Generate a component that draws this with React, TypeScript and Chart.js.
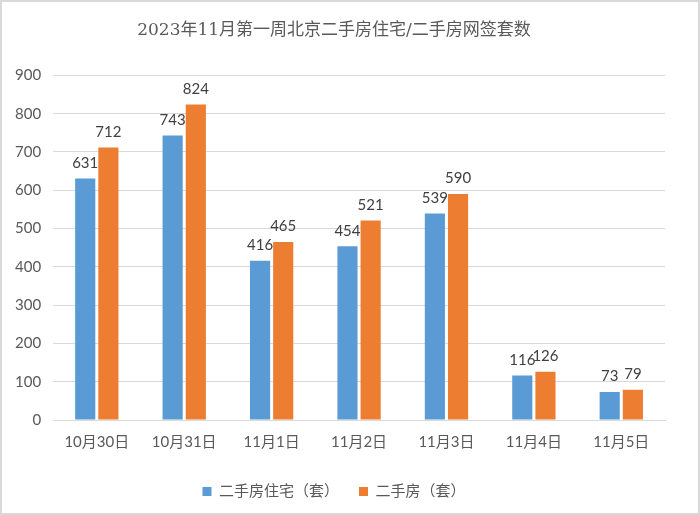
import React, { useEffect, useRef } from "react";
import { Chart, registerables } from "chart.js";

Chart.register(...registerables);

const categories = ["10月30日", "10月31日", "11月1日", "11月2日", "11月3日", "11月4日", "11月5日"];
const seriesNames = ["二手房住宅（套）", "二手房（套）"];
const residential = [631, 743, 416, 454, 539, 116, 73];
const allHomes = [712, 824, 465, 521, 590, 126, 79];
const titleText = "2023年11月第一周北京二手房住宅/二手房网签套数";

const FONT = "Lato, 'Noto Sans CJK SC', sans-serif";

const labelPlugin = {
  id: "barLabels",
  afterDatasetsDraw(chart: any) {
    const ctx = chart.ctx;
    ctx.save();
    ctx.font = `15px ${FONT}`;
    ctx.fillStyle = "#404040";
    ctx.textAlign = "center";
    ctx.textBaseline = "bottom";
    chart.data.datasets.forEach((ds: any, i: number) => {
      const meta = chart.getDatasetMeta(i);
      meta.data.forEach((bar: any, j: number) => {
        ctx.fillText(String(ds.data[j]), bar.x, bar.y - 8);
      });
    });
    ctx.restore();
  },
};

export default function App() {
  const ref = useRef<HTMLCanvasElement>(null);
  useEffect(() => {
    document.body.style.margin = "0";
    const chart = new Chart(ref.current!, {
      type: "bar",
      data: {
        labels: categories,
        datasets: [
          { label: seriesNames[0], data: residential, backgroundColor: "#5B9BD5", categoryPercentage: 0.53, barPercentage: 0.87 },
          { label: seriesNames[1], data: allHomes, backgroundColor: "#ED7D31", categoryPercentage: 0.53, barPercentage: 0.87 },
        ],
      },
      options: {
        animation: false,
        responsive: false,
        maintainAspectRatio: false,
        layout: { padding: { left: 1, right: 33, top: 8, bottom: 4 } },
        plugins: {
          title: {
            display: true,
            text: titleText,
            color: "#595959",
            font: { family: "'DejaVu Serif', 'Noto Sans CJK SC', serif", size: 17, weight: "normal" },
            padding: { top: 10, bottom: 35 },
          },
          legend: {
            position: "bottom",
            labels: {
              color: "#595959",
              font: { family: FONT, size: 15 },
              boxWidth: 9,
              boxHeight: 9,
              padding: 20,
            },
          },
          tooltip: { enabled: false },
        },
        scales: {
          x: {
            grid: { display: false, drawTicks: false },
            border: { color: "#d9d9d9" },
            ticks: { color: "#595959", font: { family: FONT, size: 15 }, padding: 13 },
          },
          y: {
            min: 0,
            max: 900,
            ticks: { stepSize: 100, color: "#595959", font: { family: FONT, size: 15 }, padding: 12 },
            grid: { color: "#d9d9d9", drawTicks: false },
            border: { display: false },
          },
        },
      },
      plugins: [labelPlugin],
    });
    return () => chart.destroy();
  }, []);
  return (
    <div style={{ width: 700, height: 515, boxSizing: "border-box", border: "2px solid #d9d9d9", background: "#fff" }}>
      <canvas ref={ref} width={696} height={511} />
    </div>
  );
}
